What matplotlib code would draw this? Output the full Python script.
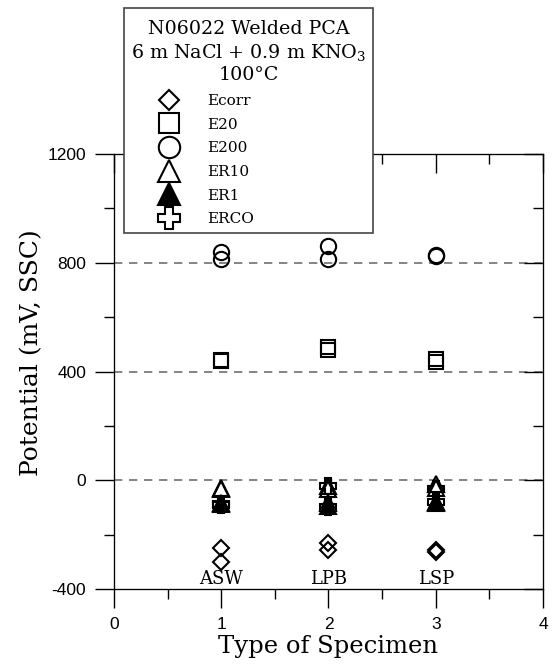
import numpy as np
import matplotlib.pyplot as plt
from matplotlib.patches import Rectangle
from matplotlib.ticker import MultipleLocator

plt.rcParams['mathtext.fontset'] = 'dejavuserif'
plt.rcParams['axes.unicode_minus'] = False

#----------------------------DATA-------------------------------#
specimens = ['ASW', 'LPB', 'LSP']
spec_x = [1, 2, 3]
# two tests per specimen type, mV vs SSC
ecorr = [[-250, -300], [-230, -255], [-255, -265]]
e20 = [[442, 440], [490, 478], [445, 435]]
e200 = [[838, 814], [860, 814], [830, 826]]
er10 = [[-30, -32], [-32, -20], [-12, -28]]
er1 = [[-85, -88], [-85, -95], [-80, -85]]
erco = [[-88, -90], [-20, -100], [-32, -80]]
#---------------------------------------------------------------#

series = [
    ('Ecorr', ecorr, dict(marker='D', ms=8.5, mfc='none')),
    ('E20', e20, dict(marker='s', ms=10.5, mfc='none')),
    ('E200', e200, dict(marker='o', ms=11, mfc='none')),
    ('ER10', er10, dict(marker='^', ms=11, mfc='none')),
    ('ER1', er1, dict(marker='^', ms=11, mfc='black')),
    ('ERCO', erco, dict(marker='P', ms=11, mfc='none')),
]

fig = plt.figure(figsize=(5.53, 6.65), dpi=100)
ax = fig.add_axes([0.206, 0.1143, 0.776, 0.6541])

for name, vals, style in series:
    xs = np.repeat(spec_x, 2)
    ys = np.array(vals).ravel()
    ax.plot(xs, ys, ls='none', color='black', mec='black', mew=1.5,
            label=name, clip_on=False, **style)

for xv, lab in zip(spec_x, specimens):
    ax.text(xv, -362, lab, ha='center', va='center', fontsize=13,
            family='DejaVu Serif')

ax.set_xlim(0, 4)
ax.set_ylim(-400, 1200)
ax.xaxis.set_major_locator(MultipleLocator(1))
ax.xaxis.set_minor_locator(MultipleLocator(0.5))
ax.yaxis.set_major_locator(MultipleLocator(400))
ax.yaxis.set_minor_locator(MultipleLocator(200))
ax.tick_params(which='both', direction='out', top=False, right=False,
               labelsize=12.5, width=1, color='black')
ax.tick_params(which='major', length=14, pad=6)
ax.tick_params(axis='y', which='major', pad=6)
ax.tick_params(which='minor', length=7)
for lab in ax.get_xticklabels() + ax.get_yticklabels():
    lab.set_family('Liberation Sans')

# inward ticks on the top and right sides
ax2 = ax.twinx()
ax2.set_ylim(ax.get_ylim())
ax2.yaxis.set_major_locator(MultipleLocator(400))
ax2.yaxis.set_minor_locator(MultipleLocator(200))
ax2.tick_params(which='both', direction='in', labelright=False, width=1)
ax2.tick_params(which='major', length=14)
ax2.tick_params(which='minor', length=7)
ax3 = ax.twiny()
ax3.set_xlim(ax.get_xlim())
ax3.xaxis.set_major_locator(MultipleLocator(1))
ax3.xaxis.set_minor_locator(MultipleLocator(0.5))
ax3.tick_params(which='both', direction='in', labeltop=False, width=1)
ax3.tick_params(which='major', length=14)
ax3.tick_params(which='minor', length=7)

for yv in [0, 400, 800, 1200]:
    ax.axhline(yv, color='#707070', lw=1.2, ls=(0, (5, 4)), zorder=0.5)

ax.set_xlabel('Type of Specimen', fontsize=17.5, family='DejaVu Serif', labelpad=2)
ax.set_ylabel('Potential (mV, SSC)', fontsize=18, family='DejaVu Serif')
ax.yaxis.set_label_coords(-0.165, 0.5425)

# legend box, drawn over the top of the axes
box = Rectangle((0.224, 0.6496), 0.451, 0.3384, transform=fig.transFigure,
                facecolor='white', edgecolor='#444444', lw=1.2, zorder=3)
fig.patches.append(box)

handles, labels = ax.get_legend_handles_labels()
leg = fig.legend(handles, labels, loc='upper center',
                 bbox_to_anchor=(0.4495, 0.970), frameon=False,
                 markerscale=1.4,
                 prop={'family': 'DejaVu Serif', 'size': 11},
                 title='N06022 Welded PCA\n6 m NaCl + 0.9 m KNO$_3$\n100°C',
                 title_fontproperties={'family': 'DejaVu Serif', 'size': 13.7},
                 handlelength=4.95, handletextpad=0.05, labelspacing=0.63,
                 borderpad=0, borderaxespad=0)
leg.set_zorder(10)
leg.get_title().set_multialignment('center')
leg.get_title().set_linespacing(1.25)
leg.legend_handles[0].set_markersize(10)
leg._legend_box.align = 'left'

fig.savefig('out.png', dpi=100)
